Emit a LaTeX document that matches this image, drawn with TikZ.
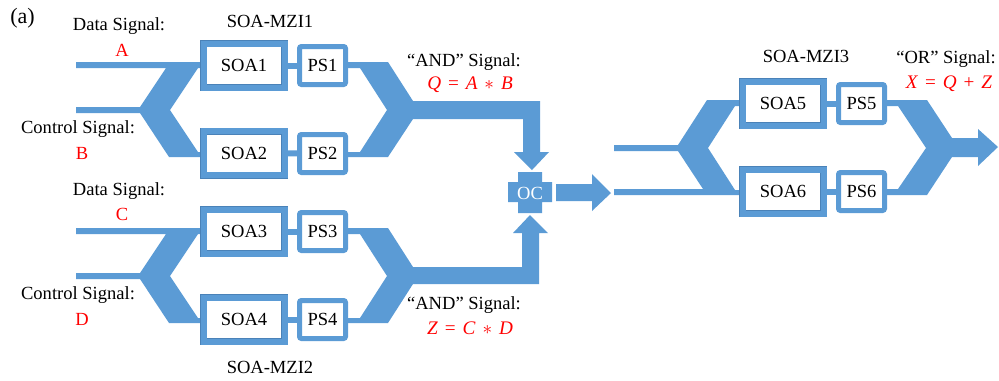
\documentclass[tikz,border=0pt]{standalone}
\usepackage{fontspec}
\setmainfont{Liberation Serif}
\usetikzlibrary{positioning}

\definecolor{mziblue}{HTML}{5B9BD5}
\definecolor{mziedge}{HTML}{4A82B8}
\newcommand{\eqgap}{\hspace{.36em}}

\begin{document}
\begin{tikzpicture}[x=0.75pt, y=-0.75pt,
    every node/.style={font=\fontsize{13.9}{16}\selectfont, inner sep=0pt},
    soabox/.style={draw=mziedge, fill=white, line width=5.25pt, minimum width=60.75pt, minimum height=33pt,
        postaction={draw=mziblue, line width=4.5pt}},
    psbox/.style={draw=mziblue, fill=white, line width=3.75pt, rounded corners=1.5pt, minimum width=34.5pt, minimum height=28.5pt},
    link/.style={draw=mziblue, line width=4.5pt},
    signal/.style={text=red},
    logic/.style={text=red, font=\fontsize{14.4}{16}\selectfont}]
    \useasboundingbox (0, 0) rectangle (999, 380);

    % Input splitters and output combiners of MZI1 and MZI2
    \foreach \shifty in {0, 166} {
        \fill[mziblue, yshift=-0.75pt*\shifty]
            (76, 62) -- (200, 62) -- (200, 68) -- (198, 68) -- (170, 110) -- (198, 152) -- (200, 152) -- (200, 157)
            -- (169, 157) -- (140, 113) -- (76, 113) -- (76, 107) -- (140, 107) -- (166, 68) -- (76, 68) -- cycle;
    }
    % Upper output to OC
    \fill[mziblue] (348, 62) -- (388, 62) -- (413, 101) -- (540, 101) -- (540, 152) -- (549, 152) -- (532, 170) -- (514, 152)
        -- (523, 152) -- (523, 119) -- (413, 119) -- (388, 157) -- (348, 157) -- (348, 152) -- (360, 152) -- (387, 110)
        -- (360, 68) -- (348, 68) -- cycle;
    % Lower output to OC
    \fill[mziblue] (348, 228) -- (388, 228) -- (413, 267) -- (522, 267) -- (522, 233) -- (513, 233) -- (530, 215) -- (548, 233)
        -- (539, 233) -- (539, 284) -- (413, 284) -- (388, 323) -- (348, 323) -- (348, 318) -- (360, 318) -- (387, 276)
        -- (360, 234) -- (348, 234) -- cycle;
    % OC cross and arrow to MZI3
    \fill[mziblue] (518, 172) -- (542, 172) -- (542, 182) -- (552, 182) -- (552, 202) -- (542, 202) -- (542, 213) -- (518, 213)
        -- (518, 202) -- (508, 202) -- (508, 182) -- (518, 182) -- cycle;
    \fill[mziblue] (556, 184) -- (592, 184) -- (592, 174) -- (611, 193) -- (592, 211) -- (592, 201) -- (556, 201) -- cycle;
    % MZI3 splitter and combiner
    \fill[mziblue] (614, 145) -- (678, 145) -- (707, 100) -- (739, 100) -- (739, 106) -- (735, 106) -- (708, 148) -- (735, 190)
        -- (739, 190) -- (739, 195) -- (614, 195) -- (614, 189) -- (703, 189) -- (678, 151) -- (614, 151) -- cycle;
    \fill[mziblue] (887, 100) -- (927, 100) -- (952, 138) -- (978, 138) -- (978, 129) -- (998, 147) -- (978, 166) -- (978, 157)
        -- (952, 157) -- (927, 195) -- (887, 195) -- (887, 189) -- (898, 189) -- (926, 148) -- (898, 106) -- (887, 106) -- cycle;

    % SOA and PS boxes
    \foreach \name/\posx/\posy in {1/244/65.5, 2/244/153, 3/244/231.5, 4/244/319.5, 5/783/103.5, 6/783/191.5} {
        \node[soabox] (soa\name) at (\posx, \posy) {SOA\name};
    }
    \foreach \name/\posx/\posy in {1/322.5/65.5, 2/322.5/153.5, 3/322.5/231.5, 4/322.5/319.5, 5/861.5/103.5, 6/861.5/191.5} {
        \node[psbox] (ps\name) at (\posx, \posy) {PS\name};
    }
    \foreach \name in {1,...,6} \draw[link] (soa\name) -- (ps\name);

    % Labels
    \node[font=\fontsize{16.5}{18}\selectfont] (panel) at (22.5, 18) {(a)};
    \node (mzione) at (270, 21) {SOA-MZI1};
    \node (mzitwo) at (270, 367) {SOA-MZI2};
    \node (mzithree) at (806, 56) {SOA-MZI3};
    \node (dataone) at (119, 26) {Data Signal:};
    \node[signal] (siga) at (122, 50) {A};
    \node (ctrlone) at (78, 129) {Control Signal:};
    \node[signal] (sigb) at (82, 153) {B};
    \node (datatwo) at (119, 191) {Data Signal:};
    \node[signal] (sigc) at (122, 214) {C};
    \node (ctrltwo) at (78, 295) {Control Signal:};
    \node[signal] (sigd) at (82, 319) {D};
    \node (andone) at (464, 62) {“AND” Signal:};
    \node[logic] (sigq) at (470, 85) {\textit{Q}\eqgap=\eqgap\textit{A}\eqgap$*$\eqgap\textit{B}};
    \node (andtwo) at (464, 305) {“AND” Signal:};
    \node[logic] (sigz) at (470, 328) {\textit{Z}\eqgap=\eqgap\textit{C}\eqgap$*$\eqgap\textit{D}};
    \node (orout) at (946, 59) {“OR” Signal:};
    \node[logic] (sigx) at (949, 84) {\textit{X}\eqgap=\eqgap\textit{Q}\eqgap+\eqgap\textit{Z}};
    \node[text=white] (oc) at (530, 193) {OC};
\end{tikzpicture}
\end{document}
